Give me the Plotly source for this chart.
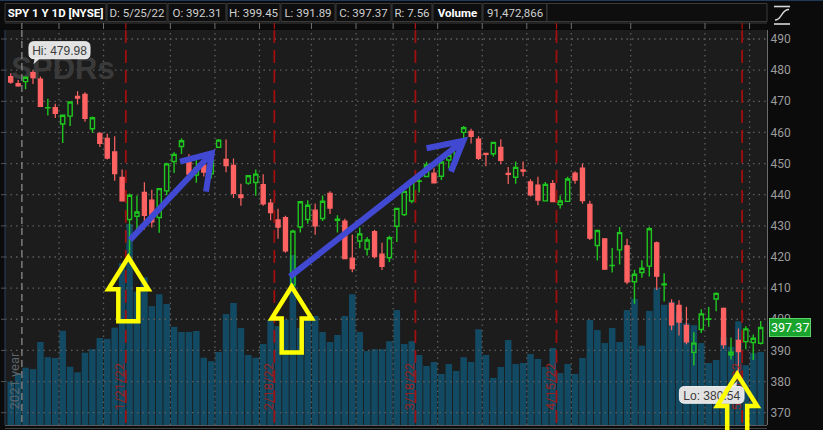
import plotly.graph_objects as go

# ---------------- data (SPY daily) ----------------
dates = ["2021-12-30", "2021-12-31",
         "2022-01-03", "2022-01-04", "2022-01-05", "2022-01-06", "2022-01-07", "2022-01-10", "2022-01-11",
         "2022-01-12", "2022-01-13", "2022-01-14", "2022-01-18", "2022-01-19", "2022-01-20", "2022-01-21",
         "2022-01-24", "2022-01-25", "2022-01-26", "2022-01-27", "2022-01-28", "2022-01-31",
         "2022-02-01", "2022-02-02", "2022-02-03", "2022-02-04", "2022-02-07", "2022-02-08", "2022-02-09",
         "2022-02-10", "2022-02-11", "2022-02-14", "2022-02-15", "2022-02-16", "2022-02-17", "2022-02-18",
         "2022-02-22", "2022-02-23", "2022-02-24", "2022-02-25", "2022-02-28",
         "2022-03-01", "2022-03-02", "2022-03-03", "2022-03-04", "2022-03-07", "2022-03-08", "2022-03-09",
         "2022-03-10", "2022-03-11", "2022-03-14", "2022-03-15", "2022-03-16", "2022-03-17", "2022-03-18",
         "2022-03-21", "2022-03-22", "2022-03-23", "2022-03-24", "2022-03-25", "2022-03-28", "2022-03-29",
         "2022-03-30", "2022-03-31",
         "2022-04-01", "2022-04-04", "2022-04-05", "2022-04-06", "2022-04-07", "2022-04-08", "2022-04-11",
         "2022-04-12", "2022-04-13", "2022-04-14", "2022-04-18", "2022-04-19", "2022-04-20", "2022-04-21",
         "2022-04-22", "2022-04-25", "2022-04-26", "2022-04-27", "2022-04-28", "2022-04-29",
         "2022-05-02", "2022-05-03", "2022-05-04", "2022-05-05", "2022-05-06", "2022-05-09", "2022-05-10",
         "2022-05-11", "2022-05-12", "2022-05-13", "2022-05-16", "2022-05-17", "2022-05-18", "2022-05-19",
         "2022-05-20", "2022-05-23", "2022-05-24", "2022-05-25"]

opens = [477.93, 475.64,
         476.30, 479.22, 477.16, 467.89, 467.95, 462.70, 465.23, 471.59, 472.19, 461.19,
         459.74, 458.13, 453.75, 445.56, 432.03, 433.06, 440.72, 438.26, 432.68, 441.24,
         450.68, 455.50, 450.95, 446.35, 449.51, 446.73, 455.22, 451.34, 449.41, 439.92,
         443.73, 443.93, 443.22, 437.33, 431.89, 432.66, 411.02, 429.61, 432.03,
         435.04, 432.37, 440.47, 431.75, 431.55, 419.62, 425.14, 422.52, 428.12, 420.89,
         419.77, 429.89, 433.59, 438.00, 444.34, 445.86, 446.91, 445.94, 451.16, 452.06,
         460.02, 460.34, 457.89,
         453.31, 453.13, 455.22, 446.89, 445.59, 447.97, 444.11, 443.08, 438.03, 443.55,
         436.81, 437.86, 446.92, 448.54, 436.91, 423.67, 425.83, 417.24, 422.29, 423.59,
         412.07, 415.01, 417.08, 424.55, 411.10, 405.10, 404.49, 398.07, 389.37, 396.71,
         399.98, 406.53, 403.50, 388.62, 393.25, 392.83, 392.56, 392.31]

highs = [479.00, 476.86,
         477.85, 479.98, 477.98, 470.82, 469.20, 465.74, 469.85, 473.20, 472.88, 465.09,
         459.96, 459.61, 458.74, 448.06, 440.38, 439.72, 444.04, 441.59, 442.00, 450.28,
         453.63, 458.12, 452.97, 452.78, 450.99, 451.92, 457.88, 457.71, 451.61, 443.50,
         446.28, 448.06, 446.57, 438.66, 435.50, 433.26, 428.76, 437.84, 438.20,
         437.17, 439.72, 441.11, 433.37, 432.30, 427.21, 429.51, 426.43, 428.77, 424.55,
         426.84, 435.68, 441.07, 444.86, 446.46, 450.58, 448.49, 450.50, 452.98, 455.91,
         462.07, 461.20, 458.76,
         453.46, 456.91, 457.83, 448.93, 450.69, 450.63, 445.00, 445.75, 444.11, 444.73,
         439.75, 445.80, 447.57, 450.01, 438.08, 428.69, 426.04, 422.92, 429.64, 425.87,
         415.92, 418.93, 429.66, 425.00, 414.80, 406.41, 406.08, 404.04, 395.80, 403.18,
         403.97, 408.57, 403.80, 394.14, 397.03, 397.73, 395.15, 399.45]

lows = [475.67, 474.67,
        473.85, 475.58, 468.28, 465.43, 464.65, 456.60, 462.05, 468.94, 463.44, 459.90,
        455.31, 451.29, 444.50, 437.95, 420.76, 427.15, 428.86, 429.45, 427.82, 439.81,
        446.94, 453.05, 445.71, 443.83, 445.85, 445.22, 455.01, 447.20, 438.94, 436.43,
        443.18, 439.69, 436.42, 431.82, 425.86, 421.35, 410.64, 427.86, 430.70,
        427.11, 431.57, 433.80, 427.88, 419.36, 415.12, 422.82, 420.44, 419.53, 415.79,
        418.42, 424.80, 433.19, 437.22, 440.68, 445.86, 443.71, 444.76, 448.43, 450.06,
        457.18, 456.47, 451.16,
        449.14, 452.26, 449.82, 443.47, 443.53, 445.94, 439.39, 436.65, 437.84, 437.68,
        435.61, 437.68, 443.48, 437.10, 425.44, 418.84, 416.07, 415.01, 417.60, 411.21,
        405.02, 413.36, 413.71, 409.44, 405.73, 396.50, 394.82, 391.96, 385.15, 395.61,
        397.60, 402.58, 390.55, 387.11, 380.54, 390.38, 386.96, 391.89]

closes = [476.16, 474.96,
          477.71, 477.55, 468.38, 467.94, 466.09, 465.51, 469.75, 471.02, 464.53, 464.72,
          456.49, 451.75, 446.75, 437.98, 439.84, 434.47, 433.38, 431.24, 441.95, 449.91,
          452.95, 457.35, 446.60, 448.70, 447.26, 450.94, 457.54, 449.32, 440.46, 439.02,
          446.10, 446.60, 437.06, 434.23, 429.57, 421.95, 428.30, 437.75, 436.63,
          429.98, 437.89, 435.71, 432.17, 419.43, 416.25, 427.41, 425.48, 420.07, 417.00,
          426.17, 435.62, 441.07, 444.52, 444.39, 449.59, 443.80, 450.49, 452.69, 455.91,
          461.55, 458.70, 451.64,
          452.92, 456.80, 451.03, 446.52, 448.77, 447.57, 439.92, 438.29, 443.31, 437.79,
          437.97, 445.04, 444.71, 438.06, 426.04, 428.51, 416.10, 417.27, 427.81, 412.00,
          414.48, 416.38, 429.06, 413.81, 411.34, 398.17, 399.09, 392.75, 392.34, 401.72,
          400.09, 408.32, 391.86, 389.46, 389.63, 396.92, 393.89, 397.37]

volumes_m = [54.3, 65.0,
             71.8, 70.0, 104.0, 85.0, 84.0, 118.0, 73.0, 66.0, 90.6, 95.0,
             109.0, 108.0, 122.0, 202.6, 251.8, 167.0, 185.0, 149.0, 164.0, 151.6,
             123.0, 116.5, 116.5, 117.8, 84.3, 80.0, 91.5, 139.0, 152.9, 121.5,
             87.7, 84.3, 101.5, 131.6, 124.0, 132.0, 213.0, 121.5, 136.0,
             136.6, 116.5, 104.0, 112.8, 136.6, 164.0, 116.5, 92.7, 95.0, 95.0,
             105.0, 144.0, 101.5, 105.0, 87.7, 74.0, 79.0, 64.0, 76.4, 67.7,
             85.0, 79.0, 120.0,
             87.7, 59.0, 72.7, 106.5, 76.4, 77.7, 89.0, 82.7, 72.7, 96.5,
             65.0, 76.4, 64.0, 84.0, 131.6, 119.0, 102.7, 121.5, 104.0, 144.0,
             158.0, 99.4, 143.0, 172.0, 150.7, 154.5, 142.0, 127.6, 125.0, 102.7,
             77.7, 81.5, 110.0, 98.0, 130.0, 75.0, 90.0, 91.472866]

price_ticks = [370, 380, 390, 400, 410, 420, 430, 440, 450, 460, 470, 480, 490]
year_break_after = "2021-12-31"
year_label = "2021 year"
expiry_after = ["2022-01-21", "2022-02-18", "2022-03-18", "2022-04-14", "2022-05-20"]
expiry_labels = ["1/21/22", "2/18/22", "3/18/22", "4/15/22", "5/20/22"]
grid_after = ["2022-01-07", "2022-01-18", "2022-01-31", "2022-02-08", "2022-02-16", "2022-02-28",
              "2022-03-08", "2022-03-15", "2022-03-23", "2022-03-31", "2022-04-08", "2022-04-19",
              "2022-04-29", "2022-05-13", "2022-05-23"]

# hand-drawn annotations (index, price)
blue_arrows = [
    {"from": (16.07, 425.5), "to": (27.07, 453.3), "barbs": [(22.8, 450.6), (26.3, 441.0)]},
    {"from": (37.61, 413.7), "to": (60.95, 457.3), "barbs": [(56.0, 454.9), (59.3, 447.4)]},
]
yellow_arrow_dates = ["2022-01-24", "2022-02-24", "2022-05-20"]
yellow_tip_prices = [419.9, 410.5, 382.4]
yellow_lengths = [64, 66, 72]

# ---------------- geometry ----------------
n = len(dates)
idx = list(range(n))
W, H = 823, 430
PL, PR, PT, PB = 5, 767, 30, 425
PW, PH = PR - PL, PB - PT
X0, X1 = -0.77, n - 1 + 0.85
Y0, Y1 = 366.05, 492.89
VOL_TOP = PH / 0.798


def fx(i):
    return PL + (i - X0) / (X1 - X0) * PW


def fy(p):
    return PB - (p - Y0) / (Y1 - Y0) * PH


def pxx(px):
    return (px - PL) / PW


def pxy(py):
    return (PB - py) / PH


def P(px, py):
    return f"{pxx(px):.5f},{pxy(py):.5f}"


def px_to_idx(px):
    return X0 + (px - PL) / PW * (X1 - X0)


def py_to_price(py):
    return Y0 + (PB - py) / PH * (Y1 - Y0)


GREEN = "#1fc61f"
RED = "#ff6262"
VOLC = "#134a63"
UI = "Roboto, Liberation Sans, sans-serif"
SANS = "Liberation Sans, Arial, sans-serif"

shapes = []


def line(x0, y0, x1, y1, color, width=1.0, dash="solid"):
    shapes.append(dict(type="line", xref="paper", yref="paper", layer="above",
                       x0=pxx(x0), y0=pxy(y0), x1=pxx(x1), y1=pxy(y1),
                       line=dict(color=color, width=width, dash=dash)))


def path(d, color=None, width=0, fill="rgba(0,0,0,0)"):
    shapes.append(dict(type="path", xref="paper", yref="paper", layer="above", path=d,
                       fillcolor=fill, line=dict(color=color or "rgba(0,0,0,0)", width=width)))


def text_box(x0, y0, x1, y1, text, font, fill="rgba(0,0,0,0)", border=None, angle=0):
    shapes.append(dict(type="rect", xref="paper", yref="paper", layer="above",
                       x0=pxx(x0), y0=pxy(y1), x1=pxx(x1), y1=pxy(y0),
                       fillcolor=fill, line=dict(color=border or "rgba(0,0,0,0)", width=1 if border else 0),
                       label=dict(text=text, font=font, textposition="middle center", textangle=angle)))


def rounded(x0, y0, x1, y1, r):
    return (f"M {P(x0 + r, y0)} L {P(x1 - r, y0)} Q {P(x1, y0)} {P(x1, y0 + r)} "
            f"L {P(x1, y1 - r)} Q {P(x1, y1)} {P(x1 - r, y1)} L {P(x0 + r, y1)} "
            f"Q {P(x0, y1)} {P(x0, y1 - r)} L {P(x0, y0 + r)} Q {P(x0, y0)} {P(x0 + r, y0)} Z")


# frame lines
line(0, 0.5, W, 0.5, "#1f3b5a", 1)
line(PL, PT, PL, PB, "#243a52", 1.2)
for p in price_ticks:
    line(1, fy(p), PL, fy(p), "#555555", 1)
line(PL, PB + 0.5, PR, PB + 0.5, "#5a5a5a", 1)
line(PL, PB + 3.5, PR, PB + 3.5, "#444444", 1)

# header cells
last = n - 1
d = dates[last].split("-")
hdr = [("SPY 1 Y 1D [NYSE]", 5, 106, True),
       (f"D: {int(d[1])}/{int(d[2])}/{d[0][2:]}", 107, 167, False),
       (f"O: {opens[last]:.2f}", 168, 226, False),
       (f"H: {highs[last]:.2f}", 227, 280, False),
       (f"L: {lows[last]:.2f}", 281, 335, False),
       (f"C: {closes[last]:.2f}", 336, 391, False),
       (f"R: {highs[last] - lows[last]:.2f}", 392, 432, False),
       ("Volume", 433, 482, True),
       (f"{round(volumes_m[last] * 1e6):,}", 483, 547, False),
       ("", 547, 767, False)]
for t, a, b, bold in hdr:
    text_box(a, 3.5, b, 21.5, f"<b>{t}</b>" if bold and t else t,
             dict(family=UI, size=11.5, color="#ffffff" if bold else "#cfcfcf"),
             fill="#0e0e0e", border="#3a3a3a")

# chart-type icon
line(774, 6.5, 790, 6.5, "#d8d8d8", 1.6)
line(774, 24, 790, 24, "#d8d8d8", 1.6)
path(f"M {P(775, 20)} C {P(782, 20)} {P(781, 9.5)} {P(789, 9.5)}", "#d8d8d8", 1.4)

# top tick strip
line(PL, 23, PR, 23, "#3c3c3c", 1)
for dd in grid_after:
    xp = fx(dates.index(dd) + 0.5)
    line(xp, 23, xp, 29, "#707070", 1)
xp = fx(dates.index(year_break_after) + 0.5)
line(xp, 23, xp, 29, "#909090", 1)
for dd in expiry_after:
    xp = fx(dates.index(dd) + 0.5)
    line(xp, 23, xp, 29, "#b01010", 1.2)

# period separator lines
xy = fx(dates.index(year_break_after) + 0.5)
line(xy, PT, xy, PB, "#7c7c7c", 1.5, "7px,4px")
for dd in expiry_after:
    xp = fx(dates.index(dd) + 0.5)
    line(xp, PT, xp, PB, "#a00f0f", 1.8, "13px,7px")

# rotated period labels
text_box(xy - 14, 355, xy - 2, 407, year_label, dict(family=UI, size=13, color="#5c646a"), angle=-90)
for dd, lab in zip(expiry_after, expiry_labels):
    xp = fx(dates.index(dd) + 0.5)
    text_box(xp - 13, 366, xp - 1, 407, lab, dict(family=UI, size=13, color="#962424"), angle=-90)

# Hi callout
hi_i = highs.index(max(highs))
ax, ay = fx(hi_i), fy(highs[hi_i])
path(f"M {P(ax + 2, ay - 13)} L {P(ax + 0.5, ay - 6)} L {P(ax + 8, ay - 13)} Z", None, 0, "#e2e2e2")
path(rounded(ax - 4, ay - 28.5, ax + 57, ay - 11.5, 5), "#f2f2f2", 1, "#e2e2e2")
text_box(ax - 4, ay - 28.5, ax + 57, ay - 11.5, f"Hi: {max(highs):.2f}",
         dict(family=SANS, size=12, color="#3a3a3a"))

# blue hand-drawn arrows
for ba in blue_arrows:
    (fi, fp), (ti, tp) = ba["from"], ba["to"]
    (b1i, b1p), (b2i, b2p) = ba["barbs"]
    path(f"M {P(fx(fi), fy(fp))} L {P(fx(ti), fy(tp))}", "#4149d2", 6)
    path(f"M {P(fx(b1i), fy(b1p))} L {P(fx(ti), fy(tp))} L {P(fx(b2i), fy(b2p))}", "#4149d2", 6)

# Lo callout
lo_i = lows.index(min(lows))
lx, ly = fx(lo_i), fy(lows[lo_i])
path(f"M {P(lx - 9, ly + 7.5)} L {P(lx - 1.5, ly + 1.5)} L {P(lx - 2, ly + 7.5)} Z", None, 0, "#e2e2e2")
path(rounded(lx - 59, ly + 6.7, lx + 5.6, ly + 23.4, 5), "#f2f2f2", 1, "#e2e2e2")
text_box(lx - 59, ly + 6.7, lx + 5.6, ly + 23.4, f"Lo: {min(lows):.2f}",
         dict(family=SANS, size=12, color="#3a3a3a"))

# yellow hollow arrows
for dd, tpz, ln in zip(yellow_arrow_dates, yellow_tip_prices, yellow_lengths):
    tx, ty = fx(dates.index(dd)) - 1.2, fy(tpz)
    hw, hh, sw = 20, 32, 10
    pts = [(tx, ty), (tx + hw, ty + hh), (tx + sw, ty + hh), (tx + sw, ty + ln),
           (tx - sw, ty + ln), (tx - sw, ty + hh), (tx - hw, ty + hh)]
    dpath = "M " + " L ".join(P(a, b) for a, b in pts) + " Z"
    path(dpath, "#ffff00", 4.5)

# ---------------- traces ----------------
gx, gy = [], []
for p in price_ticks:
    gx += [X0, X1, None]
    gy += [p, p, None]
for dd in grid_after:
    g = dates.index(dd) + 0.5
    gx += [g, g, None]
    gy += [Y0, Y1, None]

fig = go.Figure()
fig.add_trace(go.Bar(x=idx, y=volumes_m, marker=dict(color=VOLC, line=dict(width=0)),
                     yaxis="y", hoverinfo="skip", showlegend=False))
fig.add_trace(go.Scatter(x=gx, y=gy, mode="lines", yaxis="y2", hoverinfo="skip", showlegend=False,
                         line=dict(color="#5e5e5e", width=1.3, dash="1.5px,4px")))
fig.add_trace(go.Scatter(x=[px_to_idx(63)], y=[py_to_price(71)], mode="text", text=["<b>SPDRs</b>"],
                         textfont=dict(family=SANS, size=31, color="#3a3a3a"),
                         yaxis="y2", hoverinfo="skip", showlegend=False))
fig.add_trace(go.Candlestick(x=idx, open=opens, high=highs, low=lows, close=closes,
                             yaxis="y3", whiskerwidth=0, hoverinfo="skip", showlegend=False,
                             increasing=dict(line=dict(color=GREEN, width=1.4), fillcolor="rgba(0,0,0,0)"),
                             decreasing=dict(line=dict(color=RED, width=1.2), fillcolor=RED)))

fig.update_layout(
    width=W, height=H,
    margin=dict(l=PL, r=W - PR, t=PT, b=H - PB),
    paper_bgcolor="#0b0b0b", plot_bgcolor="#1c1c1c",
    showlegend=False, bargap=0.12, boxgap=0.2,
    xaxis=dict(range=[X0, X1], visible=False, rangeslider=dict(visible=False), fixedrange=True),
    yaxis=dict(range=[0, VOL_TOP], visible=False, fixedrange=True),
    yaxis2=dict(range=[Y0, Y1], overlaying="y", visible=False, fixedrange=True),
    yaxis3=dict(range=[Y0, Y1], overlaying="y", side="right", anchor="x", tickvals=price_ticks,
                ticks="", showgrid=False, zeroline=False, showline=True, linecolor="#6b6b6b",
                linewidth=1, automargin=False,
                tickfont=dict(family=UI, size=12, color="#9c9c9c"), fixedrange=True),
    shapes=shapes,
    annotations=[dict(xref="paper", yref="y3", x=pxx(769), y=closes[-1], xanchor="left", yanchor="middle",
                      text=f"{closes[-1]:.2f}", showarrow=False, bgcolor="#19a42d", bordercolor="#5fd36c",
                      borderwidth=1, borderpad=1, font=dict(family=UI, size=12.5, color="#ffffff"))],
)

fig.write_html("out.html", config={"displayModeBar": False},
               post_script="document.body.style.margin='0px';document.body.style.background='#0b0b0b';")
